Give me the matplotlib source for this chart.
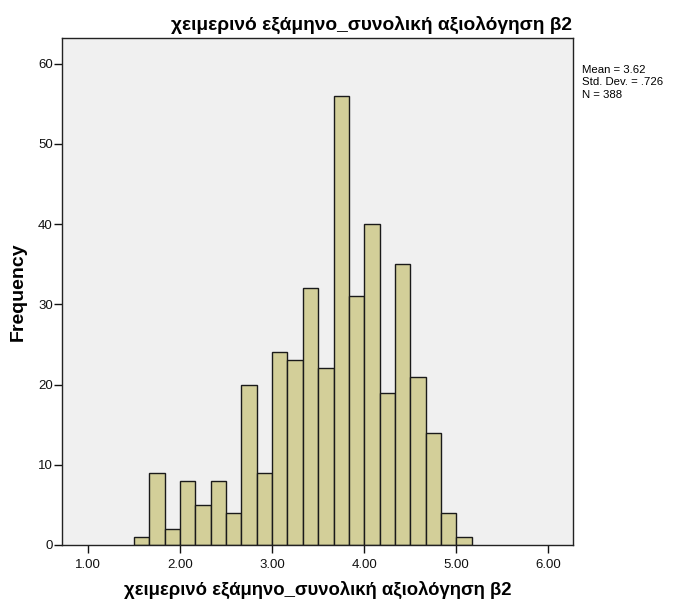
import matplotlib.pyplot as plt
import numpy as np

plt.rcParams['font.family'] = ['Liberation Sans', 'DejaVu Sans']

# bin edges: width 1/6 starting at 1.5
bin_start = 1.5
bin_width = 1.0 / 6
counts = [1, 9, 2, 8, 5, 8, 4, 20, 9, 24, 23, 32, 22, 56, 31, 40, 19, 35, 21, 14, 4, 1]
x_ticks = [1.0, 2.0, 3.0, 4.0, 5.0, 6.0]
y_ticks = [0, 10, 20, 30, 40, 50, 60]
title = "χειμερινό εξάμηνο_συνολική αξιολόγηση β2"
stats_text = "Mean = 3.62\nStd. Dev. = .726\nN = 388"

edges = bin_start + bin_width * np.arange(len(counts))

fig = plt.figure(figsize=(6.8, 6), dpi=100)
ax = fig.add_axes([0.091, 0.0917, 0.752, 0.845])
ax.set_facecolor('#f0f0f0')

ax.bar(edges, counts, width=bin_width, align='edge', color='#d3cf99',
       edgecolor='#1a1a1a', linewidth=1.0)

ax.set_xlim(0.717, 6.27)
ax.set_ylim(0, 63.2)
ax.set_xticks(x_ticks)
ax.set_xticklabels(["%.2f" % t for t in x_ticks])
ax.set_yticks(y_ticks)
ax.tick_params(direction='out', length=6, width=1, labelsize=9.5, colors='#111111')
ax.tick_params(axis='x', pad=4)
ax.tick_params(axis='y', pad=0.5)
for s in ax.spines.values():
    s.set_linewidth(1.0)
    s.set_color('#222222')

# title sits a bit right of the axes centre in the reference
fig.text(0.547, 0.95, title, fontsize=13.8, fontweight='bold', ha='center', va='baseline')
ax.set_xlabel(title, fontsize=13.3, fontweight='bold')
ax.xaxis.set_label_coords(0.5, -0.071)
ax.set_ylabel("Frequency", fontsize=14, fontweight='bold')
ax.yaxis.set_label_coords(-0.068, 0.5)

fig.text(0.856, 0.892, stats_text, fontsize=8.2, va='top', ha='left', linespacing=1.3)

fig.savefig("out.png", dpi=100)
